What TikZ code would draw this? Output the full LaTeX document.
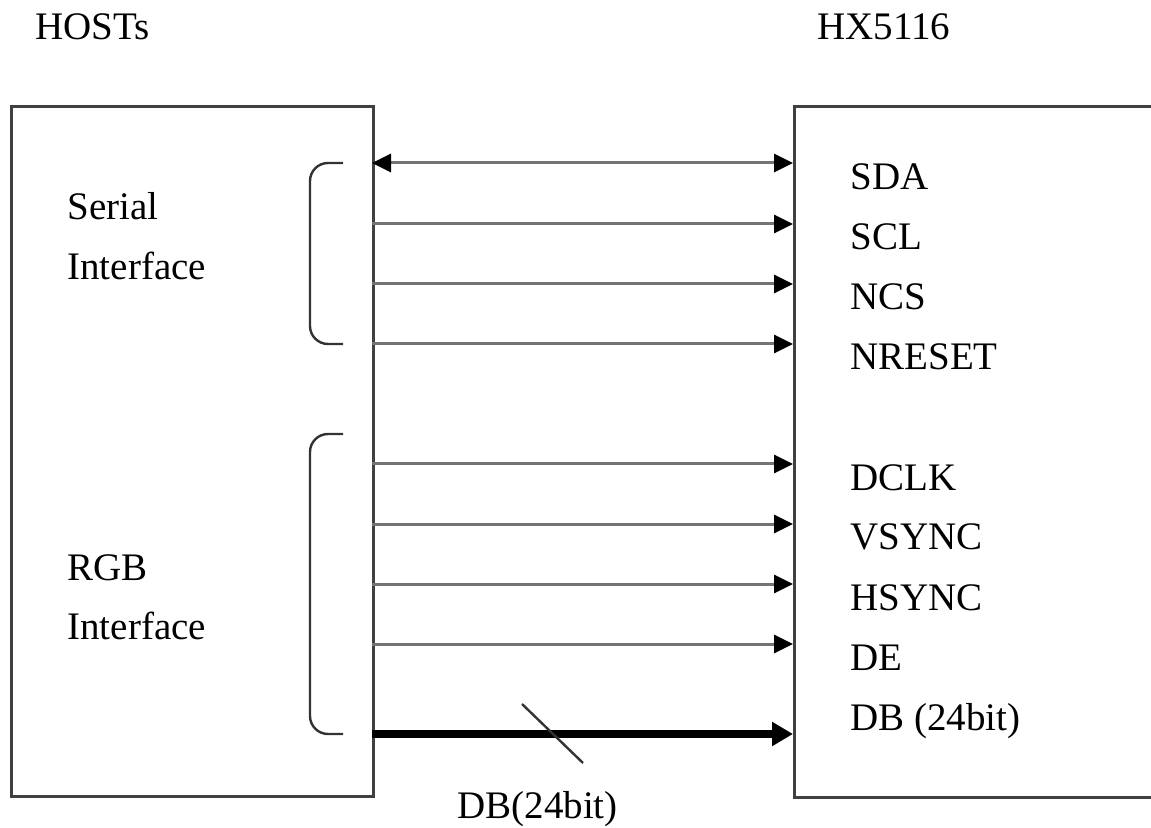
\documentclass[tikz,border=0pt]{standalone}
\usepackage{fontspec}
\setmainfont{Liberation Serif}
\usetikzlibrary{positioning, calc, arrows.meta}
\tikzset{>={Triangle[length=9.5pt,width=9pt,color=black]}}
\tikzset{blockbox/.style={draw=black!75, line width=1.3pt, anchor=north west, inner sep=0pt}}
\tikzset{signal/.style={draw=black!55, line width=1.5pt, ->}}
\tikzset{busline/.style={draw=black, line width=4pt, -{Triangle[length=10.5pt,width=11.5pt]}}}
\tikzset{pinlabel/.style={anchor=base west, inner sep=0pt, font=\fontsize{19.5}{23}\selectfont}}
\tikzset{bracket/.style={draw=black!80, line width=1.2pt, rounded corners=9pt}}

\begin{document}
\begin{tikzpicture}[x=0.5pt, y=-0.5pt]
    \useasboundingbox (0,0) rectangle (1151,828);

    % the two blocks
    \node[blockbox, minimum width=181pt, minimum height=345pt] (host) at (10,105) {};
    \node[blockbox, minimum width=190pt, minimum height=345.5pt] (chip) at (793,105) {};
    \node[pinlabel] (host-title) at (35,40) {HOSTs};
    \node[pinlabel] (chip-title) at (817,40) {HX5116};

    % interface groups
    \node[pinlabel] (serial) at (67,220) {Serial};
    \node[pinlabel] (serial-if) at (67,280) {Interface};
    \node[pinlabel] (rgb) at (67,580) {RGB};
    \node[pinlabel] (rgb-if) at (67,639) {Interface};
    \draw[bracket] (343,163) -- (310,163) -- (310,344) -- (343,344);
    \draw[bracket] (343,434) -- (310,434) -- (310,734) -- (343,734);

    % pins
    \foreach \name/\y/\txt in {sda/190/SDA, scl/250/SCL, ncs/310/NCS, nreset/370/NRESET,
        dclk/490/DCLK, vsync/549/VSYNC, hsync/610/HSYNC, de/670/DE, db/730/DB (24bit)}
        \node[pinlabel] (\name) at (850,\y) {\txt};

    % connectors
    \coordinate (out-sda) at (372,163);
    \draw[signal, <->] (out-sda) -- (chip.west |- out-sda);
    \foreach \y [count=\i] in {224,284,344,464,524,584,644} {
        \coordinate (out-\i) at (372,\y);
        \draw[signal] (out-\i) -- (chip.west |- out-\i);
    }
    \coordinate (out-db) at (372,734);
    \draw[busline] (out-db) -- (chip.west |- out-db);

    % bus width mark
    \coordinate (tick-a) at (522,704);
    \coordinate (tick-b) at (583,763);
    \draw[line width=1.2pt, black!80] (tick-a) -- (tick-b);
    \node[pinlabel] (db-width) at (457,818) {DB(24bit)};
\end{tikzpicture}
\end{document}
